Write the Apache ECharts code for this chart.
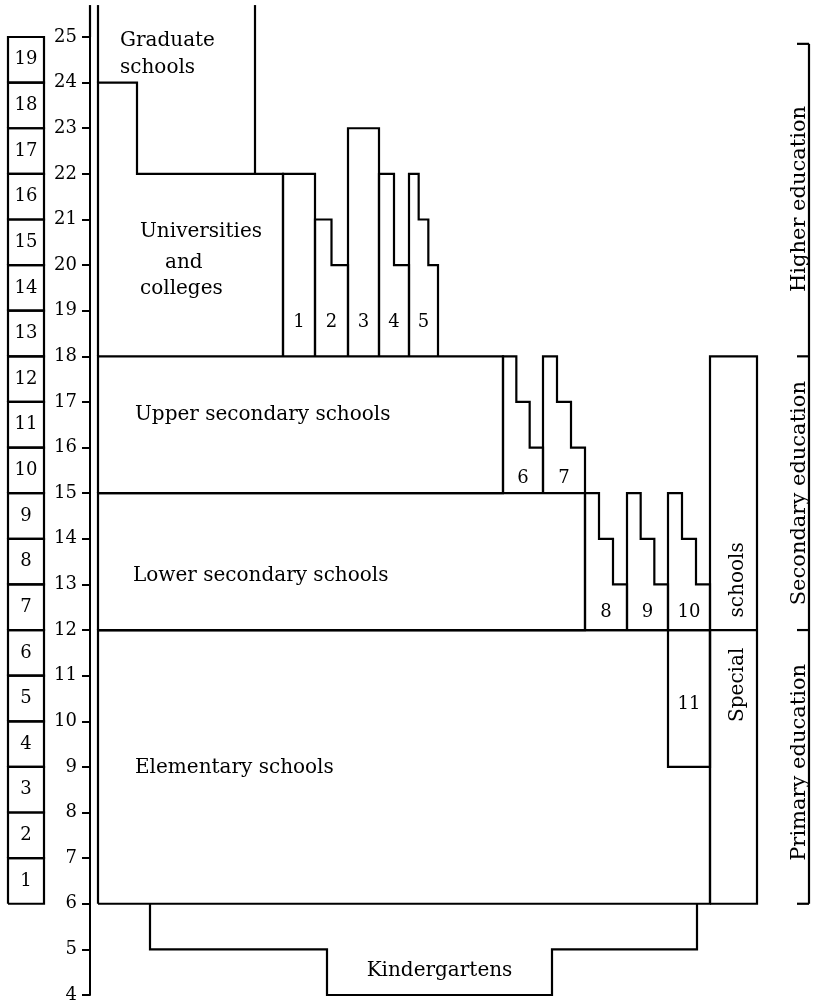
<!DOCTYPE html>
<html>
<head>
<meta charset="utf-8">
<title>School system by age</title>
<script src="https://cdn.jsdelivr.net/npm/echarts@6/dist/echarts.min.js"></script>
<style>
  html, body { margin: 0; background: #fff; }
  #chart { width: 813px; height: 1004px; }
</style>
</head>
<body>
<div id="chart"></div>
<script>
// ---- data ----
// age scale
const ageMin = 4;
const ageMax = 25;
const ageLineTop = 25.7; // axis and graduate lines run past 25

// school years, year k covers ages firstSchoolAge + k - 1 .. firstSchoolAge + k
const schoolYears = [1, 2, 3, 4, 5, 6, 7, 8, 9, 10, 11, 12, 13, 14, 15, 16, 17, 18, 19];
const firstSchoolAge = 6;

// main stages
const stageNames = ["Elementary schools", "Lower secondary schools", "Upper secondary schools", "Universities and colleges", "Graduate schools"];
const stageStartAge = [6, 12, 15, 18, 22];
const stageEndAge = [12, 15, 18, 22, null];
const longCourseEndAge = 24; // longer university courses

// numbered other schools: start age and the end age of each course length
const otherLabels = ["1", "2", "3", "4", "5", "6", "7", "8", "9", "10", "11"];
const otherStartAge = [18, 18, 18, 18, 18, 15, 15, 12, 12, 12, 12];
const otherEndAges = [[22], [21, 20], [23], [22, 20], [22, 21, 20], [18, 17, 16], [18, 17, 16], [15, 14, 13], [15, 14, 13], [15, 14, 13], [9]];

// special schools and kindergartens
const specialStartAge = 6;
const specialEndAge = 18;
const kinderStartAges = [4, 5]; // long course from 4, short from 5
const kinderEndAge = 6;

// education levels on the right
const levelNames = ["Primary education", "Secondary education", "Higher education"];
const levelBounds = [6, 12, 18, 24.85];

// ---- layout (horizontal columns, pixels) ----
const stageCols = [[98, 710], [98, 585], [98, 503], [98, 283], [98, 255]];
const longCourseX = 137;
const otherCols = [[283, 315], [315, 348], [348, 379], [379, 409], [409, 438], [503, 543], [543, 585], [585, 627], [627, 668], [668, 710], [668, 710]];
const otherLabelAge = [18.75, 18.75, 18.75, 18.75, 18.75, 15.33, 15.33, 12.38, 12.38, 12.38, 10.38];
const specialCol = [710, 757];
const kinderCols = [[327, 552], [150, 697]];
const yearCol = [8, 44];
const bracketX = 809;
const bracketTick = 797;

const serif = '"DejaVu Serif", "Liberation Serif", serif';

// ---- outlines in (x, age) ----
const outlines = [];
// y axis extension above 25
outlines.push([[90, ageMax], [90, ageLineTop]]);
// elementary, lower and upper secondary
for (let i = 0; i < 3; i++) {
  const [x0, x1] = stageCols[i];
  outlines.push([[x0, stageStartAge[i]], [x0, stageEndAge[i]], [x1, stageEndAge[i]], [x1, stageStartAge[i]], [x0, stageStartAge[i]]]);
}
// universities with the longer course step
{
  const [x0, x1] = stageCols[3];
  const a = stageStartAge[3], b = stageEndAge[3];
  outlines.push([[x0, a], [x0, longCourseEndAge], [longCourseX, longCourseEndAge], [longCourseX, b], [x1, b], [x1, a]]);
}
// graduate schools (open at the top)
outlines.push([[stageCols[4][0], longCourseEndAge], [stageCols[4][0], ageLineTop]]);
outlines.push([[stageCols[4][1], stageStartAge[4]], [stageCols[4][1], ageLineTop]]);
// numbered schools, one step per course length
otherEndAges.forEach((tops, i) => {
  const [x0, x1] = otherCols[i];
  const base = otherStartAge[i];
  const w = (x1 - x0) / tops.length;
  const pts = [[x0, base], [x0, tops[0]]];
  tops.forEach((t, j) => {
    pts.push([x0 + w * (j + 1), t]);
    if (j < tops.length - 1) pts.push([x0 + w * (j + 1), tops[j + 1]]);
  });
  pts.push([x1, base]);
  outlines.push(pts);
});
// line at 12 across special schools, special schools box
outlines.push([[stageCols[0][0], 12], [specialCol[1], 12]]);
outlines.push([[specialCol[0], specialStartAge], [specialCol[0], specialEndAge], [specialCol[1], specialEndAge], [specialCol[1], specialStartAge], [specialCol[0], specialStartAge]]);
// kindergartens
outlines.push([
  [kinderCols[1][0], kinderEndAge], [kinderCols[1][0], kinderStartAges[1]],
  [kinderCols[0][0], kinderStartAges[1]], [kinderCols[0][0], kinderStartAges[0]],
  [kinderCols[0][1], kinderStartAges[0]], [kinderCols[0][1], kinderStartAges[1]],
  [kinderCols[1][1], kinderStartAges[1]], [kinderCols[1][1], kinderEndAge]
]);
// bracket on the right
outlines.push([[bracketX, levelBounds[0]], [bracketX, levelBounds[levelBounds.length - 1]]]);
levelBounds.forEach(a => outlines.push([[bracketTick, a], [bracketX, a]]));
// school year boxes
schoolYears.forEach(k => {
  const a = firstSchoolAge + k - 1, b = firstSchoolAge + k;
  outlines.push([[yearCol[0], a], [yearCol[0], b], [yearCol[1], b], [yearCol[1], a], [yearCol[0], a]]);
});

// ---- texts in (x, age) ----
const texts = [];
const addText = (text, x, age, opts) => texts.push(Object.assign({ text, x, age, size: 20, align: "left", rot: 0 }, opts || {}));
addText("Graduate", 120, 24.92);
addText("schools", 120, 24.33);
addText("Universities", 140, 20.72);
addText("and", 165, 20.06);
addText("colleges", 140, 19.47);
addText(stageNames[2], 135, 16.72);
addText(stageNames[1], 133, 13.2);
addText(stageNames[0], 135, 8.98);
addText("Kindergartens", (kinderCols[0][0] + kinderCols[0][1]) / 2, 4.52, { align: "center" });
otherLabels.forEach((l, i) => addText(l, (otherCols[i][0] + otherCols[i][1]) / 2, otherLabelAge[i], { align: "center", size: 18 }));
addText("schools", 738, 13.1, { align: "center", rot: Math.PI / 2 });
addText("Special", 738, 10.8, { align: "center", rot: Math.PI / 2 });
const levelMid = [9.1, 15.0, 21.45];
levelNames.forEach((n, i) => addText(n, 800, levelMid[i], { align: "center", rot: Math.PI / 2, size: 21 }));
schoolYears.forEach(k => addText(String(k), (yearCol[0] + yearCol[1]) / 2, firstSchoolAge + k - 0.5, { align: "center", size: 18 }));

const chart = echarts.init(document.getElementById("chart"));
chart.setOption({
  backgroundColor: "#fff",
  animation: false,
  grid: { left: 90, right: 0, top: 37, bottom: 6 },
  xAxis: { type: "value", min: 90, max: 813, show: false },
  yAxis: {
    type: "value",
    min: ageMin,
    max: ageMax,
    interval: 1,
    splitLine: { show: false },
    axisLine: { show: true, lineStyle: { color: "#000", width: 2 } },
    axisTick: { show: true, inside: false, length: 8, lineStyle: { color: "#000", width: 2 } },
    axisLabel: { color: "#000", fontFamily: serif, fontSize: 18, margin: 13 }
  },
  series: [
    {
      type: "custom",
      data: outlines.map((_, i) => i),
      silent: true,
      renderItem(params, api) {
        const pts = outlines[params.dataIndex];
        return {
          type: "polyline",
          shape: { points: pts.map(p => api.coord(p)) },
          style: { stroke: "#000", lineWidth: 2.2, fill: null, lineJoin: "miter" }
        };
      }
    },
    {
      type: "custom",
      data: texts.map((_, i) => i),
      silent: true,
      renderItem(params, api) {
        const t = texts[params.dataIndex];
        const [x, y] = api.coord([t.x, t.age]);
        return {
          type: "text",
          x, y,
          rotation: t.rot,
          style: {
            text: t.text,
            fill: "#000",
            font: t.size + "px " + serif,
            align: t.align,
            verticalAlign: "middle"
          }
        };
      }
    }
  ]
});
</script>
</body>
</html>
